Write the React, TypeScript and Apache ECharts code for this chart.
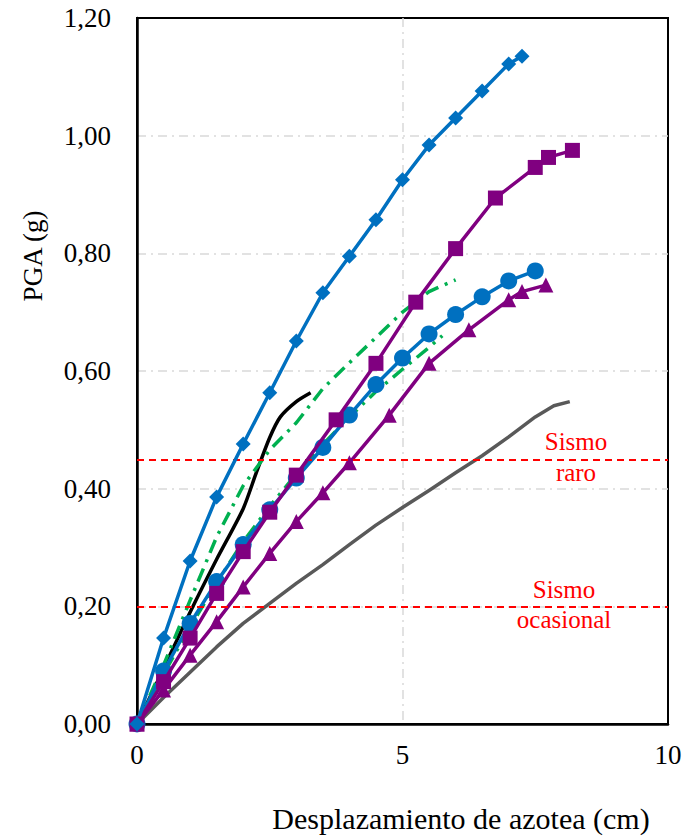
import React, { useEffect, useRef } from "react";
import * as echarts from "echarts";

// ---- data ----
const xTicks = [0, 5, 10];
const yTicks = [0, 0.2, 0.4, 0.6, 0.8, 1.0, 1.2];

const diamondX = [0, 0.5, 1, 1.5, 2, 2.5, 3, 3.5, 4, 4.5, 5, 5.5, 6, 6.5, 7, 7.25];
const diamondY = [0, 0.146, 0.277, 0.386, 0.476, 0.563, 0.651, 0.733, 0.795, 0.857, 0.925, 0.984, 1.03, 1.076, 1.122, 1.135];

const squareX = [0, 0.5, 1, 1.5, 2, 2.5, 3, 3.75, 4.5, 5.25, 6, 6.75, 7.5, 7.75, 8.2];
const squareY = [0, 0.072, 0.146, 0.222, 0.293, 0.36, 0.423, 0.517, 0.613, 0.717, 0.808, 0.894, 0.946, 0.963, 0.975];

const circleX = [0, 0.5, 1, 1.5, 2, 2.5, 3, 3.5, 4, 4.5, 5, 5.5, 6, 6.5, 7, 7.5];
const circleY = [0, 0.09, 0.171, 0.242, 0.305, 0.364, 0.418, 0.47, 0.525, 0.577, 0.622, 0.663, 0.696, 0.726, 0.753, 0.77];

const triangleX = [0, 0.5, 1, 1.5, 2, 2.5, 3, 3.5, 4, 4.75, 5.5, 6.25, 7, 7.25, 7.7];
const triangleY = [0, 0.058, 0.117, 0.174, 0.233, 0.29, 0.344, 0.393, 0.444, 0.525, 0.613, 0.67, 0.721, 0.735, 0.746];

const blackX = [0, 0.5, 1, 1.5, 2, 2.25, 2.5, 2.7, 3, 3.27];
const blackY = [0, 0.094, 0.19, 0.28, 0.366, 0.428, 0.487, 0.522, 0.548, 0.563];

const greenUpX = [0, 0.5, 1, 1.5, 2, 2.5, 3, 3.5, 4, 4.5, 5, 5.5, 6];
const greenUpY = [0, 0.1, 0.21, 0.318, 0.405, 0.466, 0.512, 0.57, 0.614, 0.657, 0.7, 0.735, 0.755];

const greenLowX = [0, 0.5, 1, 1.5, 2, 2.5, 3, 3.5, 4, 4.5, 5, 5.5, 5.75];
const greenLowY = [0, 0.085, 0.165, 0.24, 0.31, 0.37, 0.425, 0.475, 0.522, 0.565, 0.603, 0.64, 0.66];

const grayX = [0, 0.5, 1, 1.5, 2, 2.5, 3, 3.5, 4, 4.5, 5, 5.5, 6, 6.5, 7, 7.5, 7.85, 8.15];
const grayY = [0, 0.045, 0.088, 0.131, 0.171, 0.205, 0.239, 0.271, 0.305, 0.338, 0.368, 0.397, 0.427, 0.456, 0.488, 0.522, 0.541, 0.548];

const thresholds = [0.45, 0.2];

const zip = (xs: number[], ys: number[]) => xs.map((x, i) => [x, ys[i]]);

const FONT = "Liberation Serif";
const BLUE = "#0070C0";
const PURPLE = "#800080";
const GREEN = "#00B050";

export default function App() {
  const ref = useRef<HTMLDivElement>(null);
  useEffect(() => {
    if (!ref.current) return;
    const chart = echarts.init(ref.current, null, { renderer: "svg" });
    const gridDash = [9, 5, 2, 5];
    const splitLine = {
      show: true,
      showMinLine: false,
      showMaxLine: false,
      lineStyle: { color: "#D9D9D9", width: 1.5, type: gridDash },
    };
    chart.setOption({
      animation: false,
      backgroundColor: "#fff",
      textStyle: { fontFamily: FONT },
      grid: {
        left: 137,
        right: 28,
        top: 18,
        bottom: 114,
        show: true,
        borderColor: "#000",
        borderWidth: 2,
        backgroundColor: "transparent",
      },
      xAxis: {
        type: "value",
        min: xTicks[0],
        max: xTicks[xTicks.length - 1],
        interval: 5,
        axisLine: { show: true, lineStyle: { color: "#000", width: 2.5 } },
        axisTick: { show: false },
        axisLabel: { color: "#000", fontFamily: FONT, fontSize: 27, margin: 17 },
        splitLine,
      },
      yAxis: {
        type: "value",
        min: yTicks[0],
        max: yTicks[yTicks.length - 1],
        interval: 0.2,
        axisLine: { show: true, lineStyle: { color: "#000", width: 2.5 } },
        axisTick: { show: false },
        axisLabel: {
          color: "#000",
          fontFamily: FONT,
          fontSize: 27,
          margin: 26,
          formatter: (v: number) => v.toFixed(2).replace(".", ","),
        },
        splitLine,
      },
      graphic: [
        {
          type: "text",
          x: 33,
          y: 256,
          rotation: Math.PI / 2,
          style: { text: "PGA (g)", fontFamily: FONT, fontSize: 27, fill: "#000", align: "center", verticalAlign: "middle" },
        },
        {
          type: "text",
          x: 461,
          y: 818,
          style: { text: "Desplazamiento de azotea (cm)", fontFamily: FONT, fontSize: 30, fill: "#000", align: "center", verticalAlign: "middle" },
        },
        { type: "text", x: 576, y: 441, style: { text: "Sismo", fontFamily: FONT, fontSize: 25, fill: "#FF0000", align: "center", verticalAlign: "middle" } },
        { type: "text", x: 576, y: 472, style: { text: "raro", fontFamily: FONT, fontSize: 25, fill: "#FF0000", align: "center", verticalAlign: "middle" } },
        { type: "text", x: 564, y: 589, style: { text: "Sismo", fontFamily: FONT, fontSize: 25, fill: "#FF0000", align: "center", verticalAlign: "middle" } },
        { type: "text", x: 564, y: 619, style: { text: "ocasional", fontFamily: FONT, fontSize: 25, fill: "#FF0000", align: "center", verticalAlign: "middle" } },
      ],
      series: [
        {
          type: "line",
          name: "gris",
          data: zip(grayX, grayY),
          showSymbol: false,
          smooth: false,
          lineStyle: { color: "#595959", width: 3.5, join: "round" },
          z: 2,
          markLine: {
            silent: true,
            symbol: "none",
            label: { show: false },
            lineStyle: { color: "#FF0000", width: 2, type: [7, 5] },
            data: thresholds.map((t) => ({ yAxis: t })),
          },
        },
        {
          type: "line",
          name: "negro",
          data: zip(blackX, blackY),
          showSymbol: false,
          smooth: 0.25,
          lineStyle: { color: "#000", width: 3.5, join: "round" },
          z: 3,
        },
        {
          type: "line",
          name: "verde1",
          data: zip(greenUpX, greenUpY),
          showSymbol: false,
          smooth: false,
          lineStyle: { color: GREEN, width: 3.5, type: [14, 7, 3, 7] },
          z: 3,
        },
        {
          type: "line",
          name: "verde2",
          data: zip(greenLowX, greenLowY),
          showSymbol: false,
          smooth: false,
          lineStyle: { color: GREEN, width: 3.5, type: [14, 7, 3, 7] },
          z: 3,
        },
        {
          type: "line",
          name: "circulos",
          data: zip(circleX, circleY),
          symbol: "circle",
          symbolSize: 17,
          lineStyle: { color: BLUE, width: 3.5 },
          itemStyle: { color: BLUE, borderWidth: 0 },
          z: 4,
        },
        {
          type: "line",
          name: "triangulos",
          data: zip(triangleX, triangleY),
          symbol: "triangle",
          symbolSize: 15,
          lineStyle: { color: PURPLE, width: 3.5 },
          itemStyle: { color: PURPLE, borderWidth: 0 },
          z: 4,
        },
        {
          type: "line",
          name: "cuadrados",
          data: zip(squareX, squareY),
          symbol: "rect",
          symbolSize: 15,
          lineStyle: { color: PURPLE, width: 3.5 },
          itemStyle: { color: PURPLE, borderWidth: 0 },
          z: 5,
        },
        {
          type: "line",
          name: "diamantes",
          data: zip(diamondX, diamondY),
          symbol: "diamond",
          symbolSize: 15,
          lineStyle: { color: BLUE, width: 3.5 },
          itemStyle: { color: BLUE, borderWidth: 0 },
          z: 5,
        },
      ],
    });
    return () => chart.dispose();
  }, []);
  return <div ref={ref} style={{ width: 696, height: 838, position: "absolute", left: 0, top: 0 }} />;
}
